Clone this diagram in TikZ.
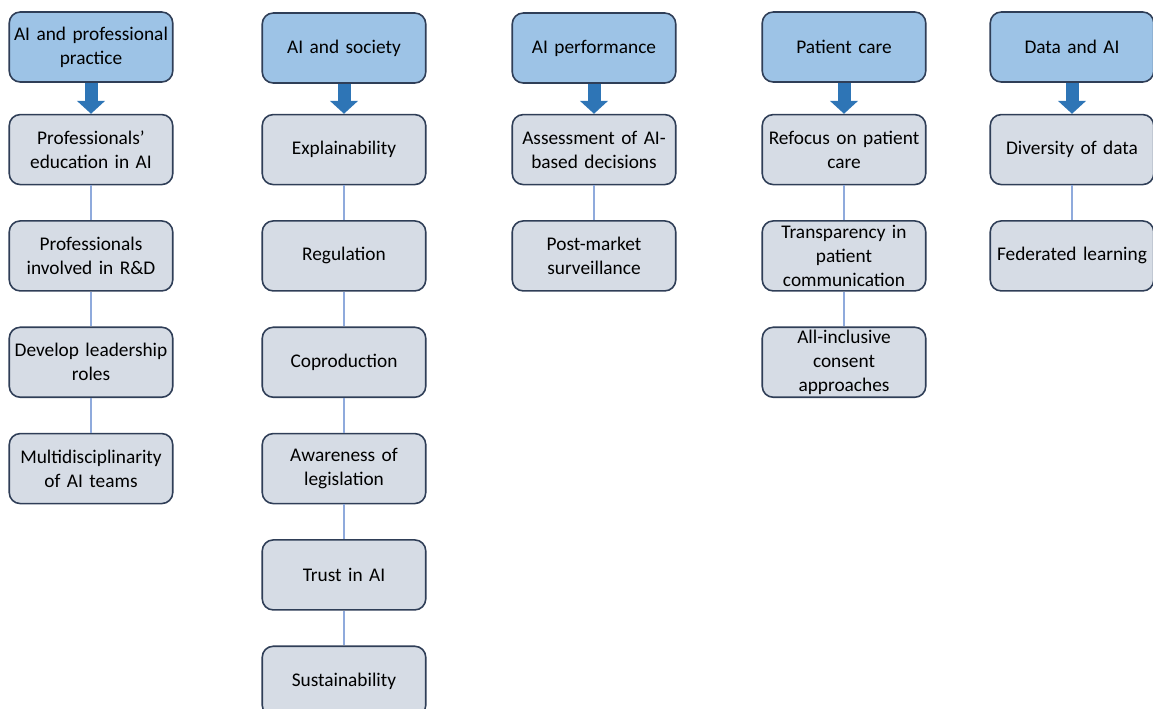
\documentclass[tikz,border=0pt]{standalone}
\usepackage{fontspec}
\setmainfont{Carlito}
\usetikzlibrary{positioning,arrows.meta}
\definecolor{headblue}{HTML}{9DC3E6}
\definecolor{boxgray}{HTML}{D6DCE5}
\definecolor{edgeline}{HTML}{2F3E57}
\definecolor{arrowblue}{HTML}{2E75B6}
\definecolor{linkblue}{HTML}{8FAADC}

\begin{document}
\begin{tikzpicture}[node distance=0.695cm,
  head node/.style={rectangle,rounded corners=0.22cm,fill=headblue,draw=edgeline,line width=0.9pt,minimum width=3.24cm,minimum height=1.4cm,text width=3.2cm,align=center,inner sep=1pt,font=\fontsize{11}{13.7}\selectfont},
  main node/.style={head node,fill=boxgray},
  fat arrow/.style={draw=arrowblue,line width=0.26cm,-{Triangle[width=0.55cm,length=0.26cm]}},
  link/.style={draw=linkblue,line width=0.6pt}]

  \useasboundingbox (0,0) rectangle (23.06,-14.16);

  \node[head node] (h1) at (1.82,-0.94) {AI and professional\\practice};
  \node[head node] (h2) at (6.88,-0.96) {AI and society};
  \node[head node] (h3) at (11.88,-0.96) {AI performance};
  \node[head node] (h4) at (16.88,-0.94) {Patient care};
  \node[head node] (h5) at (21.44,-0.94) {Data and AI};

  \node[main node] (a1) [below=0.62cm of h1] {Professionals’\\education in AI};
  \node[main node] (a2) [below=of a1] {Professionals\\involved in R\&D};
  \node[main node] (a3) [below=of a2] {Develop leadership\\roles};
  \node[main node] (a4) [below=of a3] {Multidisciplinarity\\of AI teams};

  \node[main node] (b1) [below=0.6cm of h2] {Explainability};
  \node[main node] (b2) [below=of b1] {Regulation};
  \node[main node] (b3) [below=of b2] {Coproduction};
  \node[main node] (b4) [below=of b3] {Awareness of\\legislation};
  \node[main node] (b5) [below=of b4] {Trust in AI};
  \node[main node] (b6) [below=of b5] {Sustainability};

  \node[main node] (c1) [below=0.6cm of h3] {Assessment of AI-\\based decisions};
  \node[main node] (c2) [below=of c1] {Post-market\\surveillance};

  \node[main node] (d1) [below=0.62cm of h4] {Refocus on patient\\care};
  \node[main node] (d2) [below=of d1] {Transparency in\\patient\\communication};
  \node[main node] (d3) [below=of d2] {All-inclusive\\consent\\approaches};

  \node[main node] (e1) [below=0.62cm of h5] {Diversity of data};
  \node[main node] (e2) [below=of e1] {Federated learning};

  \draw[fat arrow] (h1) -- (a1);
  \draw[fat arrow] (h2) -- (b1);
  \draw[fat arrow] (h3) -- (c1);
  \draw[fat arrow] (h4) -- (d1);
  \draw[fat arrow] (h5) -- (e1);

  \draw[link] (a1) -- (a2);
  \draw[link] (a2) -- (a3);
  \draw[link] (a3) -- (a4);

  \draw[link] (b1) -- (b2);
  \draw[link] (b2) -- (b3);
  \draw[link] (b3) -- (b4);
  \draw[link] (b4) -- (b5);
  \draw[link] (b5) -- (b6);

  \draw[link] (c1) -- (c2);

  \draw[link] (d1) -- (d2);
  \draw[link] (d2) -- (d3);

  \draw[link] (e1) -- (e2);
\end{tikzpicture}
\end{document}
